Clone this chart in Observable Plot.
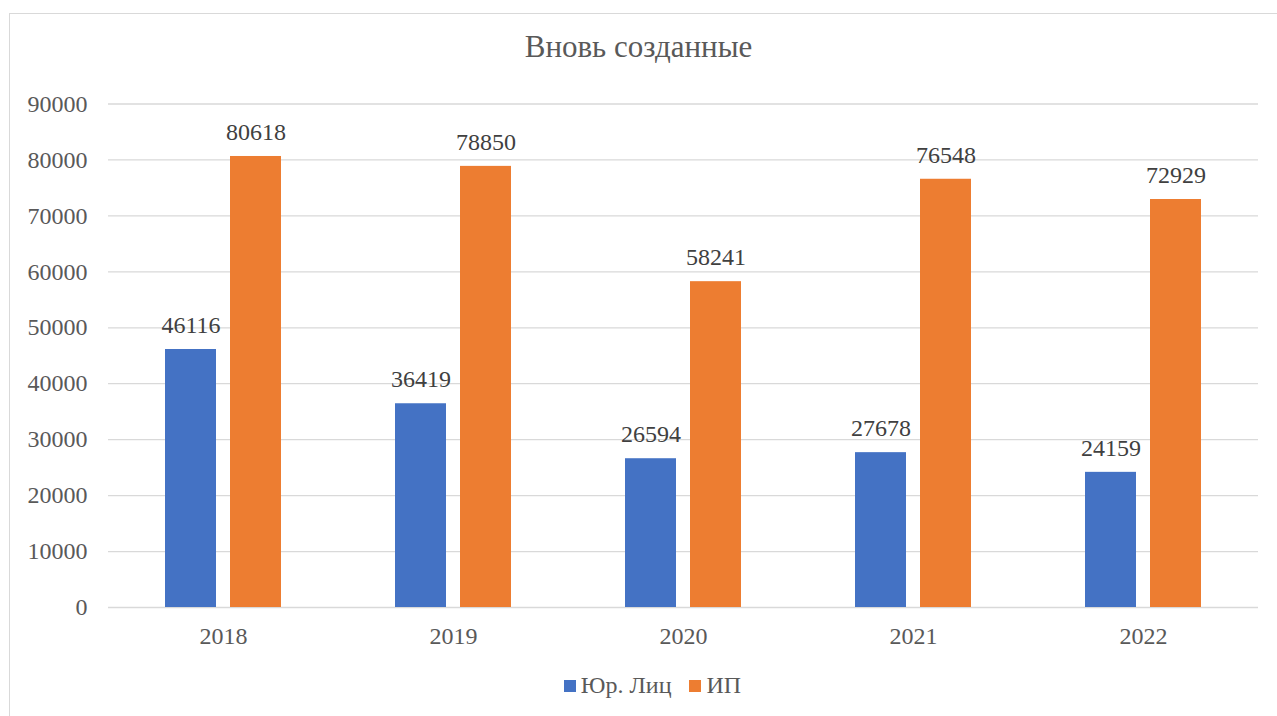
<!DOCTYPE html>
<html>
<head>
<meta charset="utf-8">
<script src="https://cdn.jsdelivr.net/npm/d3@7"></script>
<script src="https://cdn.jsdelivr.net/npm/@observablehq/plot@0.6"></script>
<style>
  html, body { margin: 0; padding: 0; background: #fff; overflow: hidden; width: 1277px; height: 716px; }
  #frame { position: absolute; left: 9px; top: 13px; width: 1400px; height: 900px; border: 1.5px solid #d9d9d9; box-sizing: border-box; }
  #title { position: absolute; left: 0; width: 1277px; top: 29px; text-align: center; font-family: "Liberation Serif", "LiberationSerif", Tinos, "Times New Roman", "DejaVu Serif", serif; font-size: 31px; color: #595959; }
  #chart { position: absolute; left: 0; top: 0; }
  #legend { position: absolute; left: 14px; width: 1277px; top: 672px; text-align: center; font-family: "Liberation Serif", "LiberationSerif", Tinos, "Times New Roman", "DejaVu Serif", serif; font-size: 24px; color: #595959; white-space: nowrap; }
  .item { display: inline-block; margin: 0 9px; }
  .sw { display: inline-block; width: 12px; height: 12px; margin-right: 5px; vertical-align: 1px; }
  #chart svg text { font-family: "Liberation Serif", "LiberationSerif", Tinos, "Times New Roman", "DejaVu Serif", serif; }
</style>
</head>
<body>
<div id="frame"></div>
<div id="chart"></div>
<div id="title">Вновь созданные</div>
<div id="legend"></div>
<script>
const years = ["2018", "2019", "2020", "2021", "2022"];
const seriesNames = ["Юр. Лиц", "ИП"];
const ulValues = [46116, 36419, 26594, 27678, 24159];
const ipValues = [80618, 78850, 58241, 76548, 72929];
const yTicks = [0, 10000, 20000, 30000, 40000, 50000, 60000, 70000, 80000, 90000];
const colors = ["#4472C4", "#ED7D31"];

const rows = [];
years.forEach((y, i) => {
  rows.push({year: y, series: seriesNames[0], value: ulValues[i]});
  rows.push({year: y, series: seriesNames[1], value: ipValues[i]});
});

const serif = '"Liberation Serif", "LiberationSerif", Tinos, "Times New Roman", "DejaVu Serif", serif';

const chart = Plot.plot({
  width: 1277,
  height: 660,
  marginLeft: 107,
  marginRight: 19,
  marginTop: 103.5,
  marginBottom: 53,
  style: {fontFamily: serif, fontSize: "24px", color: "#595959", background: "transparent"},
  fx: {domain: years, padding: 0, axis: "bottom", tickSize: 0, tickPadding: 19, label: null},
  x: {domain: seriesNames, paddingInner: 0.212, paddingOuter: 0.85, axis: null},
  y: {domain: [0, 90000], ticks: yTicks, tickSize: 0, tickPadding: 21, tickFormat: d3.format("d"), label: null},
  color: {domain: seriesNames, range: colors},
  marks: [
    Plot.gridY(yTicks, {stroke: "#d9d9d9", strokeOpacity: 1, strokeWidth: 1.3}),
    Plot.barY(rows, {fx: "year", x: "series", y: "value", fill: "series"}),
    Plot.text(rows, {fx: "year", x: "series", y: "value", text: d => String(d.value), dy: -24, fill: "#404040", fontSize: 24})
  ]
});
document.getElementById("chart").appendChild(chart);

const legend = document.getElementById("legend");
seriesNames.forEach((s, i) => {
  const item = document.createElement("span");
  item.className = "item";
  const sw = document.createElement("span");
  sw.className = "sw";
  sw.style.background = colors[i];
  item.appendChild(sw);
  item.appendChild(document.createTextNode(s));
  legend.appendChild(item);
});
</script>
</body>
</html>
